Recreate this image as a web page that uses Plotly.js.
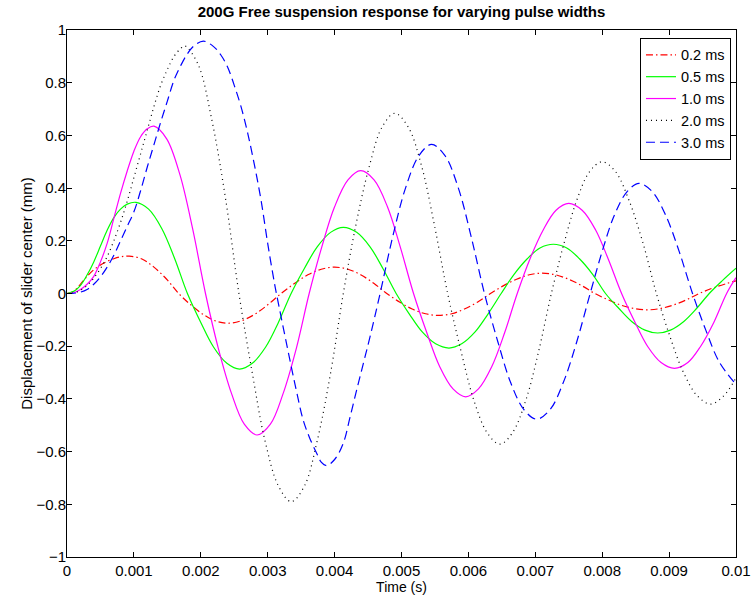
<!DOCTYPE html>
<html>
<head>
<meta charset="utf-8">
<script src="https://cdn.plot.ly/plotly-3.0.1.min.js"></script>
<style>html,body{margin:0;padding:0;background:#fff;}#chart{width:751px;height:600px;}</style>
</head>
<body>
<div id="chart"></div>
<script>
// Time (s) and displacement (mm)
const tRed = [0, 0.0001, 0.0002, 0.0003, 0.0004, 0.0005, 0.0006, 0.0007, 0.0008, 0.00093,
  0.00112, 0.0013, 0.00149, 0.00167, 0.00185, 0.00204, 0.00222, 0.0024,
  0.0026, 0.0028, 0.003, 0.0032, 0.0034, 0.0036, 0.0038, 0.0040,
  0.0042, 0.00439, 0.00459, 0.00478, 0.00497, 0.00516, 0.00536, 0.00555,
  0.00575, 0.00594, 0.00614, 0.00633, 0.00652, 0.00672, 0.00691, 0.0071,
  0.0073, 0.0075, 0.0077, 0.00789, 0.00809, 0.00828, 0.00848, 0.00867,
  0.00887, 0.00906, 0.00926, 0.00945, 0.0097, 0.01];
const yRed = [0, 0.008, 0.035, 0.065, 0.09, 0.108, 0.122, 0.132, 0.139, 0.142,
  0.131, 0.100, 0.054, 0, -0.043, -0.080, -0.104, -0.113,
  -0.104, -0.080, -0.043, 0, 0.038, 0.071, 0.092, 0.100,
  0.092, 0.071, 0.038, 0, -0.032, -0.059, -0.077, -0.083,
  -0.077, -0.059, -0.032, 0, 0.029, 0.054, 0.071, 0.077,
  0.071, 0.054, 0.029, 0, -0.024, -0.044, -0.057, -0.062,
  -0.057, -0.044, -0.024, 0, 0.025, 0.048];

const tGreen = [0, 0.0001, 0.0002, 0.0003, 0.0004, 0.0005, 0.0006, 0.0007, 0.0008, 0.0009, 0.00103,
  0.00122, 0.00142, 0.00161, 0.0018, 0.002, 0.00219, 0.00239, 0.00258,
  0.00277, 0.00297, 0.00316, 0.00335, 0.00355, 0.00374, 0.00394, 0.00413,
  0.00433, 0.00453, 0.00472, 0.00492, 0.00512, 0.00531, 0.00551, 0.00571,
  0.0059, 0.0061, 0.00629, 0.00649, 0.00668, 0.00688, 0.00707, 0.00727,
  0.00747, 0.00766, 0.00786, 0.00805, 0.00825, 0.00844, 0.00864, 0.00883,
  0.00902, 0.00922, 0.00941, 0.0096, 0.0098, 0.01];
const yGreen = [0, 0.008, 0.03, 0.07, 0.12, 0.18, 0.24, 0.288, 0.32, 0.339, 0.346,
  0.320, 0.245, 0.132, 0, -0.110, -0.203, -0.265, -0.287,
  -0.265, -0.203, -0.110, 0, 0.096, 0.177, 0.232, 0.251,
  0.232, 0.177, 0.096, 0, -0.079, -0.146, -0.191, -0.207,
  -0.191, -0.146, -0.079, 0, 0.072, 0.132, 0.173, 0.187,
  0.173, 0.132, 0.072, 0, -0.057, -0.106, -0.139, -0.150,
  -0.139, -0.106, -0.057, 0, 0.05, 0.096];

const tMagenta = [0, 0.0001, 0.0002, 0.0003, 0.0004, 0.0005, 0.0006, 0.0007, 0.0008, 0.0009, 0.001, 0.0011, 0.0012, 0.0013,
  0.00149, 0.00169, 0.00188, 0.00207, 0.00226, 0.00246, 0.00265, 0.00284,
  0.00304, 0.00323, 0.00343, 0.00362, 0.00381, 0.004, 0.0042, 0.00439,
  0.00459, 0.00479, 0.00498, 0.00518, 0.00538, 0.00557, 0.00577, 0.00596,
  0.00615, 0.00635, 0.00654, 0.00673, 0.00692, 0.00712, 0.00731, 0.0075,
  0.0077, 0.0079, 0.00809, 0.00829, 0.00849, 0.00868, 0.00888, 0.00908,
  0.00928, 0.00947, 0.00967, 0.00986, 0.01];
const yMagenta = [0, 0.003, 0.015, 0.035, 0.065, 0.12, 0.19, 0.285, 0.38, 0.465, 0.54, 0.595, 0.625, 0.635,
  0.587, 0.449, 0.243, 0, -0.206, -0.380, -0.496, -0.537,
  -0.496, -0.380, -0.206, 0, 0.178, 0.329, 0.431, 0.466,
  0.431, 0.329, 0.178, 0, -0.150, -0.277, -0.362, -0.392,
  -0.362, -0.277, -0.150, 0, 0.131, 0.242, 0.316, 0.342,
  0.316, 0.242, 0.131, 0, -0.109, -0.201, -0.262, -0.284,
  -0.262, -0.201, -0.109, 0, 0.06];

const tBlack = [0, 0.0001, 0.0002, 0.0003, 0.0004, 0.0005, 0.0006, 0.0007, 0.0008, 0.0009, 0.001, 0.0011, 0.0012, 0.0013, 0.0014, 0.0015, 0.0016, 0.0017, 0.00176,
  0.00196, 0.00216, 0.00237, 0.00257, 0.00277, 0.00296, 0.00316, 0.00335,
  0.00355, 0.00374, 0.00394, 0.00413, 0.00432, 0.00452, 0.00471, 0.0049,
  0.0051, 0.0053, 0.00549, 0.00569, 0.00589, 0.00608, 0.00628, 0.00647,
  0.00666, 0.00686, 0.00705, 0.00724, 0.00743, 0.00762, 0.00781, 0.0080,
  0.0082, 0.0084, 0.00861, 0.00881, 0.00901, 0.00921, 0.00942, 0.00962, 0.00981, 0.01];
const yBlack = [0, 0.002, 0.012, 0.03, 0.058, 0.095, 0.14, 0.2, 0.27, 0.35, 0.44, 0.53, 0.62, 0.71, 0.79, 0.85, 0.9, 0.93, 0.94,
  0.869, 0.665, 0.360, 0, -0.302, -0.559, -0.730, -0.79,
  -0.730, -0.559, -0.302, 0, 0.262, 0.484, 0.632, 0.684,
  0.632, 0.484, 0.262, 0, -0.219, -0.404, -0.528, -0.572,
  -0.528, -0.404, -0.219, 0, 0.191, 0.354, 0.462, 0.50,
  0.462, 0.354, 0.191, 0, -0.161, -0.297, -0.388, -0.42, -0.39, -0.32];

const tBlue = [0, 0.0001, 0.0002, 0.0003, 0.0004, 0.0005, 0.0006, 0.0007, 0.0008, 0.0009, 0.001, 0.0011, 0.0012, 0.0013, 0.0014, 0.0015, 0.0016, 0.0017, 0.0018, 0.0019, 0.00204,
  0.0022, 0.0023, 0.0024, 0.0025, 0.0026, 0.0027, 0.0028, 0.0029, 0.003, 0.0031, 0.00313,
  0.00333, 0.00343, 0.00353, 0.00363, 0.00373, 0.0038, 0.00388,
  0.004, 0.00413, 0.00423, 0.00433, 0.00443, 0.00453, 0.00468,
  0.00487, 0.00506, 0.00526, 0.00545, 0.00565, 0.00585, 0.00604, 0.00624,
  0.00644, 0.00663, 0.00683, 0.00702, 0.00722, 0.00742, 0.00762, 0.00782,
  0.008, 0.00818, 0.00837, 0.00855, 0.00875, 0.00895, 0.00915, 0.00935,
  0.00955, 0.00975, 0.01];
const yBlue = [0, 0.001, 0.005, 0.015, 0.035, 0.063, 0.10, 0.145, 0.20, 0.255, 0.31, 0.39, 0.48, 0.565, 0.65, 0.73, 0.81, 0.865, 0.91, 0.94, 0.958,
  0.935, 0.905, 0.86, 0.79, 0.71, 0.61, 0.49, 0.355, 0.19, 0.04, 0,
  -0.25, -0.37, -0.48, -0.55, -0.605, -0.64, -0.653,
  -0.63, -0.568, -0.47, -0.366, -0.265, -0.164, 0,
  0.217, 0.400, 0.523, 0.566, 0.523, 0.400, 0.217, 0,
  -0.183, -0.337, -0.441, -0.477, -0.441, -0.337, -0.183, 0,
  0.160, 0.296, 0.386, 0.418, 0.386, 0.296, 0.160, 0,
  -0.14, -0.26, -0.345];

const seriesNames = ['0.2 ms', '0.5 ms', '1.0 ms', '2.0 ms', '3.0 ms'];
const xTickVals = [0, 0.001, 0.002, 0.003, 0.004, 0.005, 0.006, 0.007, 0.008, 0.009, 0.01];
const xTickText = ['0', '0.001', '0.002', '0.003', '0.004', '0.005', '0.006', '0.007', '0.008', '0.009', '0.01'];
const yTickVals = [-1, -0.8, -0.6, -0.4, -0.2, 0, 0.2, 0.4, 0.6, 0.8, 1];
const yTickText = ['\u22121', '\u22120.8', '\u22120.6', '\u22120.4', '\u22120.2', '0', '0.2', '0.4', '0.6', '0.8', '1'];

const FONT = 'Liberation Sans, Arial, Helvetica, sans-serif';

function tr(x, y, name, color, dash) {
  return {x: x, y: y, name: name, type: 'scatter', mode: 'lines',
    line: {color: color, width: 1.2, dash: dash, shape: 'spline', smoothing: 1}};
}

const data = [
  tr(tRed, yRed, seriesNames[0], '#ff0000', '7px,3px,1.5px,3px'),
  tr(tGreen, yGreen, seriesNames[1], '#00ff00', 'solid'),
  tr(tMagenta, yMagenta, seriesNames[2], '#ff00ff', 'solid'),
  tr(tBlack, yBlack, seriesNames[3], '#000000', '1px,4px'),
  tr(tBlue, yBlue, seriesNames[4], '#0000ff', '9px,5px')
];

const axisCommon = {
  showgrid: false, zeroline: false, showline: true, linecolor: '#000', linewidth: 1,
  mirror: 'ticks', ticks: 'inside', ticklen: 5, tickcolor: '#000', tickwidth: 1,
  tickfont: {family: FONT, size: 15, color: '#000'}, tickmode: 'array'
};

const layout = {
  width: 751, height: 600,
  paper_bgcolor: '#fff', plot_bgcolor: '#fff',
  margin: {l: 67, r: 15, t: 30, b: 43},
  font: {family: FONT, size: 14, color: '#000'},
  title: {text: '<b>200G Free suspension response for varying pulse widths</b>',
    font: {family: FONT, size: 15, color: '#000'},
    x: 0.5, xref: 'paper', y: 1 - 12/600, yref: 'container', yanchor: 'middle'},
  xaxis: Object.assign({}, axisCommon, {range: [0, 0.01], tickvals: xTickVals, ticktext: xTickText,
    title: {text: 'Time (s)', font: {family: FONT, size: 14, color: '#000'}, standoff: 2}}),
  yaxis: Object.assign({}, axisCommon, {range: [-1, 1], tickvals: yTickVals, ticktext: yTickText,
    ticklabelstandoff: -3,
    title: {text: 'Displacement of slider center (mm)', font: {family: FONT, size: 15, color: '#000'}, standoff: 0}}),
  showlegend: true,
  legend: {x: 0.9925, xanchor: 'right', y: 0.985, yanchor: 'top',
    bgcolor: '#fff', bordercolor: '#000', borderwidth: 1, itemwidth: 30,
    font: {family: FONT, size: 14.5, color: '#000'}, tracegroupgap: 0}
};

Plotly.newPlot('chart', data, layout, {displayModeBar: false, staticPlot: true});
</script>
</body>
</html>
